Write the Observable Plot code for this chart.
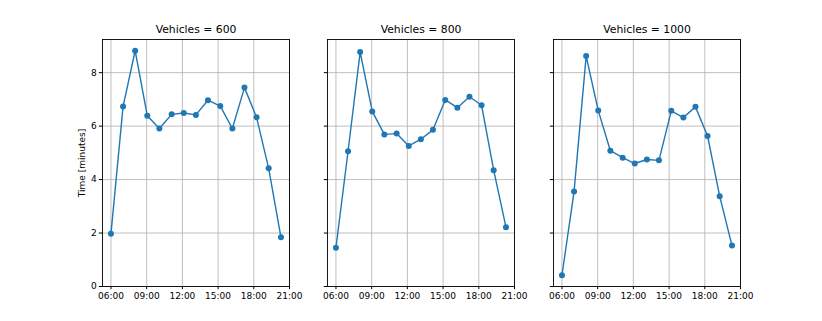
<!DOCTYPE html>
<html>
<head>
<meta charset="utf-8">
<script src="https://cdn.jsdelivr.net/npm/d3@7"></script>
<script src="https://cdn.jsdelivr.net/npm/@observablehq/plot@0.6"></script>
<style>
  html, body { margin: 0; padding: 0; background: white; }
  #chart { position: relative; width: 822px; height: 321px; overflow: hidden; }
  #chart svg { position: absolute; top: 0; }
</style>
</head>
<body>
<div id="chart"></div>
<script>
// Sample times
const times = ["06:00","07:01","08:02","09:03","10:04","11:06","12:07","13:08","14:09","15:11","16:12","17:13","18:14","19:15","20:17"];
// Panel titles / fleet sizes
const vehicles = [600, 800, 1000];
// Travel time [minutes] per fleet size
const time600  = [1.97, 6.73, 8.82, 6.39, 5.91, 6.44, 6.49, 6.42, 6.97, 6.75, 5.91, 7.44, 6.33, 4.42, 1.84];
const time800  = [1.45, 5.06, 8.77, 6.55, 5.69, 5.72, 5.26, 5.51, 5.86, 6.98, 6.69, 7.10, 6.78, 4.35, 2.22];
const time1000 = [0.42, 3.55, 8.62, 6.58, 5.08, 4.82, 4.60, 4.75, 4.72, 6.57, 6.32, 6.72, 5.63, 3.38, 1.53];
// Axis ticks
const xTicks = ["06:00","09:00","12:00","15:00","18:00","21:00"];
const yTicks = [0, 2, 4, 6, 8];
const yLabel = "Time [minutes]";

const series = [time600, time800, time1000];
const toHours = s => { const [h, m] = s.split(":").map(Number); return h + m / 60; };
const xTickHours = xTicks.map(toHours);
const fmt = h => xTicks[xTickHours.indexOf(h)] ?? "";

const frameLefts = [102, 327, 553];
const frameW = 187;
const mL = 20, mR = 18;
const blue = "#1f77b4";
const chart = document.getElementById("chart");

vehicles.forEach((v, i) => {
  const data = times.map((t, j) => ({hour: toHours(t), value: series[i][j]}));
  const marks = [
    Plot.gridX(xTickHours, {stroke: "#b0b0b0", strokeOpacity: 1, strokeWidth: 0.8}),
    Plot.gridY(yTicks, {stroke: "#b0b0b0", strokeOpacity: 1, strokeWidth: 0.8}),
    Plot.line(data, {x: "hour", y: "value", stroke: blue, strokeWidth: 1.4}),
    Plot.dot(data, {x: "hour", y: "value", fill: blue, r: 3, stroke: "none"}),
    Plot.frame({stroke: "black", strokeWidth: 0.9}),
    Plot.axisX(xTickHours, {tickFormat: fmt, tickSize: 3.2, tickPadding: 2.5, fontSize: 9, label: null, stroke: "black", fill: "black"}),
    Plot.axisY(yTicks, {tickSize: 3.2, tickPadding: 2.5, fontSize: 9, label: null, stroke: "black", fill: "black", tickFormat: i === 0 ? d => String(d) : () => ""}),
    Plot.text([`Vehicles = ${v}`], {frameAnchor: "top", dy: -10, fontSize: 10.8, fill: "black", textAnchor: "middle", lineAnchor: "middle"})
  ];
  if (i === 0) {
    marks.push(Plot.text([yLabel], {frameAnchor: "left", dx: -20, rotate: -90, fontSize: 9, fill: "black", textAnchor: "middle", lineAnchor: "middle"}));
  }
  const svg = Plot.plot({
    width: mL + frameW + mR,
    height: 321,
    marginTop: 39,
    marginBottom: 35,
    marginLeft: mL,
    marginRight: mR,
    style: {background: "transparent", fontFamily: "DejaVu Sans", fontSize: "9px", color: "black", overflow: "visible"},
    x: {type: "linear", domain: [5.29, 21], axis: null},
    y: {type: "linear", domain: [0, 9.24], axis: null},
    marks
  });
  svg.style.left = (frameLefts[i] - mL) + "px";
  chart.appendChild(svg);
});
</script>
</body>
</html>
